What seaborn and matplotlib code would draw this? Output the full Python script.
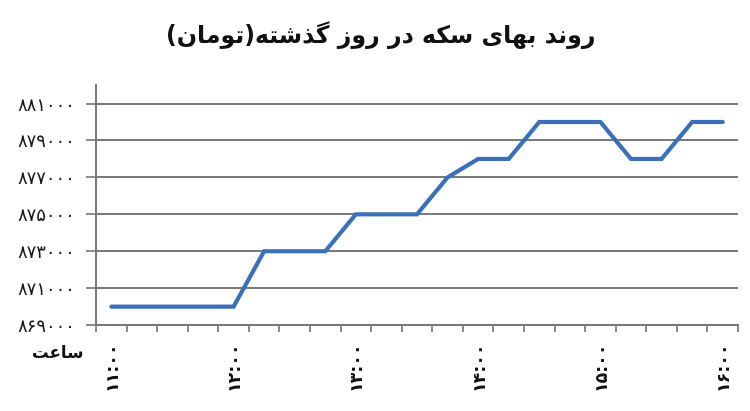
import numpy as np
import pandas as pd
import matplotlib
matplotlib.use("Agg")
import matplotlib.pyplot as plt
import seaborn as sns

# Data (price of coin in toman, every 15 minutes)
times = ["11:00", "11:15", "11:30", "11:45", "12:00", "12:15", "12:30",
         "12:45", "13:00", "13:15", "13:30", "13:45", "14:00", "14:15",
         "14:30", "14:45", "15:00", "15:15", "15:30", "15:45", "16:00"]
prices = [870000, 870000, 870000, 870000, 870000, 873000, 873000,
          873000, 875000, 875000, 875000, 877000, 878000, 878000,
          880000, 880000, 880000, 878000, 878000, 880000, 880000]
y_ticks = [869000, 871000, 873000, 875000, 877000, 879000, 881000]

title_text = "روند بهای سکه در روز گذشته(تومان)"
xlabel_text = "ساعت"

# matplotlib has no Arabic shaping, so map letters to presentation forms
# (isolated, final, initial, medial) and reverse to visual order
FORMS = {
    "ا": ("\uFE8D", "\uFE8E", None, None),
    "ب": ("\uFE8F", "\uFE90", "\uFE91", "\uFE92"),
    "ت": ("\uFE95", "\uFE96", "\uFE97", "\uFE98"),
    "د": ("\uFEA9", "\uFEAA", None, None),
    "ذ": ("\uFEAB", "\uFEAC", None, None),
    "ر": ("\uFEAD", "\uFEAE", None, None),
    "ز": ("\uFEAF", "\uFEB0", None, None),
    "س": ("\uFEB1", "\uFEB2", "\uFEB3", "\uFEB4"),
    "ش": ("\uFEB5", "\uFEB6", "\uFEB7", "\uFEB8"),
    "ع": ("\uFEC9", "\uFECA", "\uFECB", "\uFECC"),
    "م": ("\uFEE1", "\uFEE2", "\uFEE3", "\uFEE4"),
    "ن": ("\uFEE5", "\uFEE6", "\uFEE7", "\uFEE8"),
    "ه": ("\uFEE9", "\uFEEA", "\uFEEB", "\uFEEC"),
    "و": ("\uFEED", "\uFEEE", None, None),
    "ک": ("\uFB8E", "\uFB8F", "\uFB90", "\uFB91"),
    "گ": ("\uFB92", "\uFB93", "\uFB94", "\uFB95"),
    "ی": ("\uFBFC", "\uFBFD", "\uFBFE", "\uFBFF"),
}


def shape_rtl(text):
    out = []
    for i, ch in enumerate(text):
        if ch not in FORMS:
            out.append(ch)
            continue
        prev = text[i - 1] if i > 0 else ""
        nxt = text[i + 1] if i + 1 < len(text) else ""
        join_prev = prev in FORMS and FORMS[prev][2] is not None
        join_next = nxt in FORMS and FORMS[ch][2] is not None
        iso, fin, ini, med = FORMS[ch]
        if join_prev and join_next:
            out.append(med)
        elif join_prev:
            out.append(fin)
        elif join_next:
            out.append(ini)
        else:
            out.append(iso)
    mirror = {"(": ")", ")": "("}
    return "".join(mirror.get(c, c) for c in reversed(out))


fa_digits = str.maketrans("0123456789", "۰۱۲۳۴۵۶۷۸۹")

df = pd.DataFrame({"time": times, "price": prices})

sns.set_theme(style="white")
plt.rcParams["font.family"] = ["DejaVu Sans"]

fig = plt.figure(figsize=(7.5, 4.11), dpi=100)
ax = fig.add_axes([0.128, 0.209, 0.856, 0.584])

sns.lineplot(data=df, x="time", y="price", sort=False, ax=ax,
             color="#3A70BA", linewidth=3.0, solid_capstyle="round",
             solid_joinstyle="miter")

n = len(times)
ax.set_xlim(-0.5, n - 0.5)
ax.set_ylim(869000, 882000)

# gridlines + y ticks
ax.set_yticks(y_ticks)
ax.set_yticklabels([str(v).translate(fa_digits) for v in y_ticks],
                   fontsize=13, color="#1a1a1a")
ax.yaxis.grid(True, color="#777777", linewidth=1.4)
ax.set_axisbelow(True)

# category labels every hour, tick marks between categories
label_pos = list(range(0, n, 4))
ax.set_xticks(label_pos)
ax.set_xticklabels([times[i].translate(fa_digits) for i in label_pos],
                   rotation=90, fontsize=12.5, fontweight="bold", color="#111111")
ax.set_xticks(np.arange(-0.5, n, 1.0), minor=True)
ax.tick_params(axis="x", which="major", length=0, pad=11)
ax.tick_params(axis="x", which="minor", length=5, width=1.2, color="#777777",
               direction="out", bottom=True)
ax.tick_params(axis="y", length=7, width=1.2, color="#777777",
               direction="out", left=True, pad=8)

for side in ["top", "right"]:
    ax.spines[side].set_visible(False)
for side in ["left", "bottom"]:
    ax.spines[side].set_color("#777777")
    ax.spines[side].set_linewidth(1.4)

ax.set_xlabel("")
ax.set_ylabel("")
ax.text(-0.02, -0.115, shape_rtl(xlabel_text), transform=ax.transAxes,
        ha="right", va="center", fontsize=12, fontweight="bold",
        color="#111111")

fig.text(0.507, 0.915, shape_rtl(title_text), ha="center", va="center",
         fontsize=17, fontweight="bold", color="#111111")

fig.savefig("out.png", dpi=100, facecolor="white")
